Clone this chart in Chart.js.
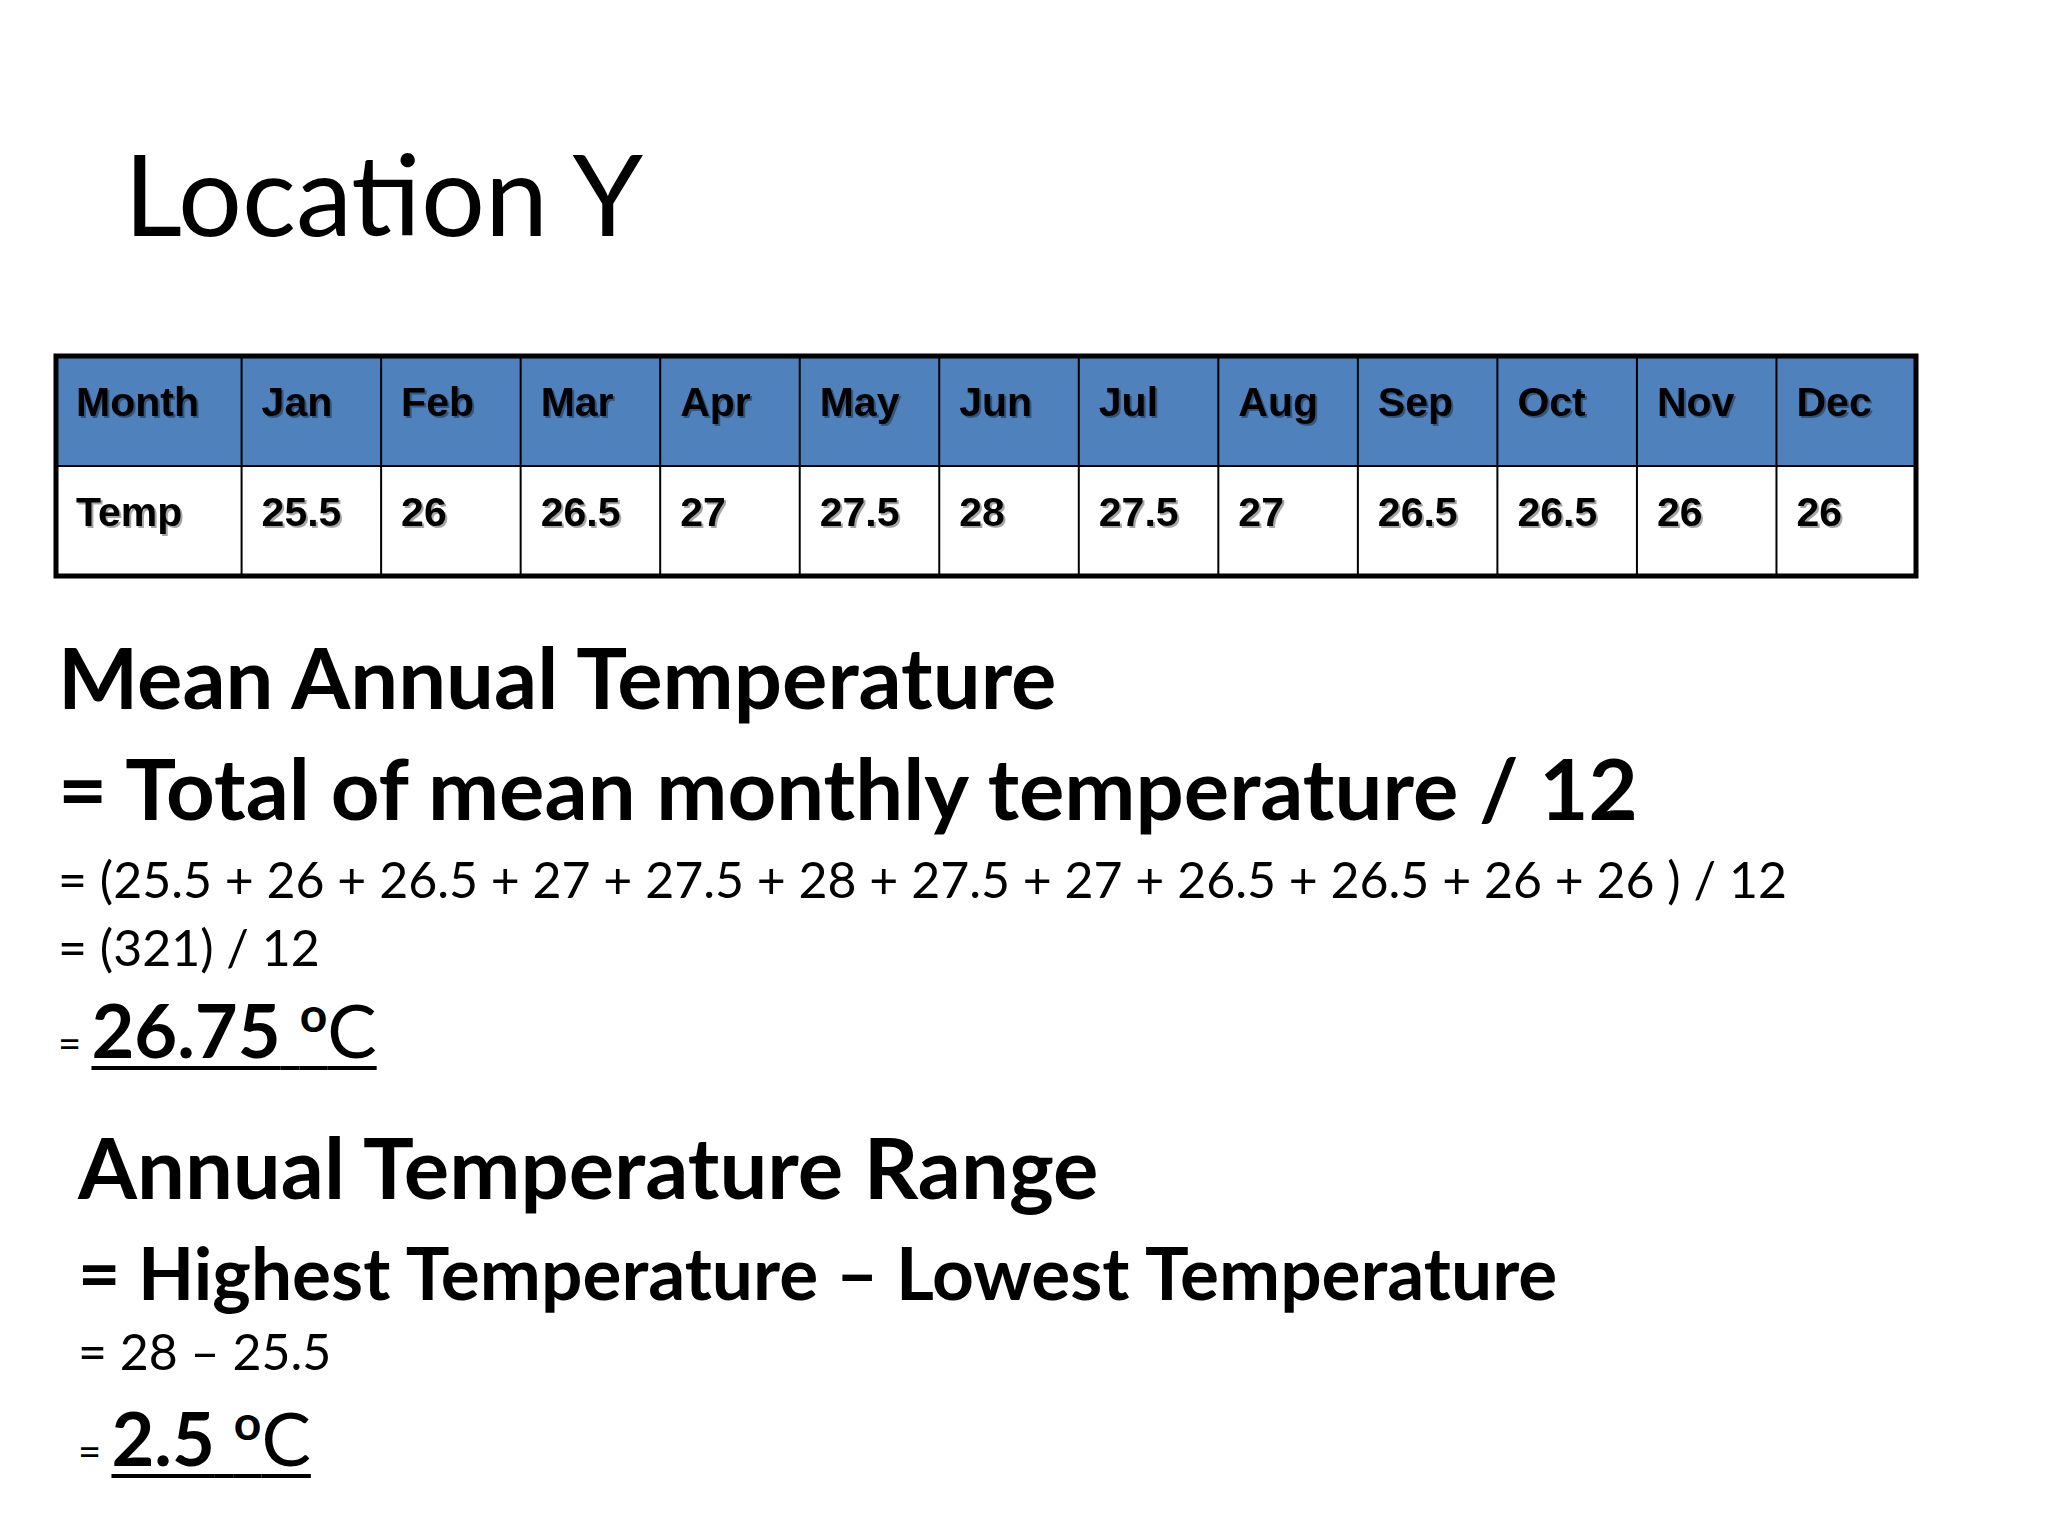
<!DOCTYPE html>
<html><head><meta charset="utf-8">
<script src="https://cdn.jsdelivr.net/npm/chart.js@4"></script>
<style>
body{margin:0;width:2048px;height:1536px;background:#fff;position:relative;overflow:hidden;font-family:Lato,"Open Sans",sans-serif;color:#000}
.t{position:absolute;white-space:nowrap;line-height:1}
#wrap{position:absolute;left:53px;top:353px;width:1866px;height:226px}
u{text-decoration-thickness:4px;text-underline-offset:8px}
</style></head><body>
<div class="t" style="left:124px;top:136px;font-size:113px">Location Y</div>
<div id="wrap"><canvas id="c"></canvas></div>
<div class="t" style="left:58px;top:634px;font-size:85px;font-weight:bold">Mean Annual Temperature</div>
<div class="t" style="left:58px;top:745px;font-size:85px;font-weight:bold">= Total of mean monthly temperature / 12</div>
<div class="t" style="left:58px;top:854px;font-size:50px" id="sumLine"></div>
<div class="t" style="left:58px;top:922px;font-size:50px" id="totLine"></div>
<div class="t" style="left:58px;top:990px;font-size:40px">= <span style="font-size:74px"><u><b id="meanVal"></b> <sup style="font-size:48px;font-weight:bold">o</sup>C</u></span></div>
<div class="t" style="left:78px;top:1124px;font-size:85px;font-weight:bold">Annual Temperature Range</div>
<div class="t" style="left:78px;top:1236px;font-size:73px;font-weight:bold">= Highest Temperature – Lowest Temperature</div>
<div class="t" style="left:78px;top:1326px;font-size:50px" id="rngLine"></div>
<div class="t" style="left:78px;top:1398px;font-size:40px">= <span style="font-size:74px"><u><b id="rngVal"></b> <sup style="font-size:48px;font-weight:bold">o</sup>C</u></span></div>
<script>
const months=["Jan","Feb","Mar","Apr","May","Jun","Jul","Aug","Sep","Oct","Nov","Dec"];
const temps=[25.5,26,26.5,27,27.5,28,27.5,27,26.5,26.5,26,26];
const rowLabels=["Month","Temp"];
const statedTotal="321";
const statedMean="26.75";
const hi=Math.max(...temps), lo=Math.min(...temps);
document.getElementById('sumLine').textContent="= ("+temps.join(" + ")+" ) / 12";
document.getElementById('totLine').textContent="= ("+statedTotal+") / 12";
document.getElementById('meanVal').textContent=statedMean;
document.getElementById('rngLine').textContent="= "+hi+" – "+lo;
document.getElementById('rngVal').textContent=(hi-lo).toString();

const firstW=1.33;
const bounds=[0,firstW];for(let i=1;i<=12;i++)bounds.push(firstW+i);
const tablePlugin={id:'table',afterDraw(ch){
  const ctx=ch.ctx,xs=ch.scales.x,ys=ch.scales.y;
  const X=bounds.map(b=>xs.getPixelForValue(b));
  const Y=[0,1,2].map(v=>ys.getPixelForValue(v));
  ctx.save();
  ctx.fillStyle='#4F81BD';ctx.fillRect(X[0],Y[0],X[13]-X[0],Y[1]-Y[0]);
  ctx.strokeStyle='#000';ctx.lineWidth=2;
  for(let i=1;i<13;i++){ctx.beginPath();ctx.moveTo(X[i],Y[0]);ctx.lineTo(X[i],Y[2]);ctx.stroke();}
  ctx.beginPath();ctx.moveTo(X[0],Y[1]);ctx.lineTo(X[13],Y[1]);ctx.stroke();
  ctx.lineWidth=5;ctx.strokeRect(X[0],Y[0],X[13]-X[0],Y[2]-Y[0]);
  ctx.font='bold 41px "Liberation Sans", Arial, sans-serif';ctx.textBaseline='alphabetic';
  const cell=(txt,col,row)=>{
    const x=X[col]+20,y=Y[row]+60;
    ctx.fillStyle='rgba(0,0,0,0.35)';ctx.fillText(txt,x+2,y+2);
    ctx.fillStyle='#000';ctx.fillText(txt,x,y);
  };
  cell(rowLabels[0],0,0);cell(rowLabels[1],0,1);
  months.forEach((m,i)=>cell(m,i+1,0));
  temps.forEach((t,i)=>cell(String(t),i+1,1));
  ctx.restore();
}};
new Chart(document.getElementById('c'),{
  type:'scatter',
  data:{datasets:[{data:[],showLine:false}]},
  options:{responsive:true,maintainAspectRatio:false,animation:false,
    layout:{padding:3},
    plugins:{legend:{display:false},tooltip:{enabled:false}},
    scales:{x:{type:'linear',min:0,max:bounds[13],display:false},
            y:{type:'linear',min:0,max:2,reverse:true,display:false}}},
  plugins:[tablePlugin]
});
</script>
</body></html>
